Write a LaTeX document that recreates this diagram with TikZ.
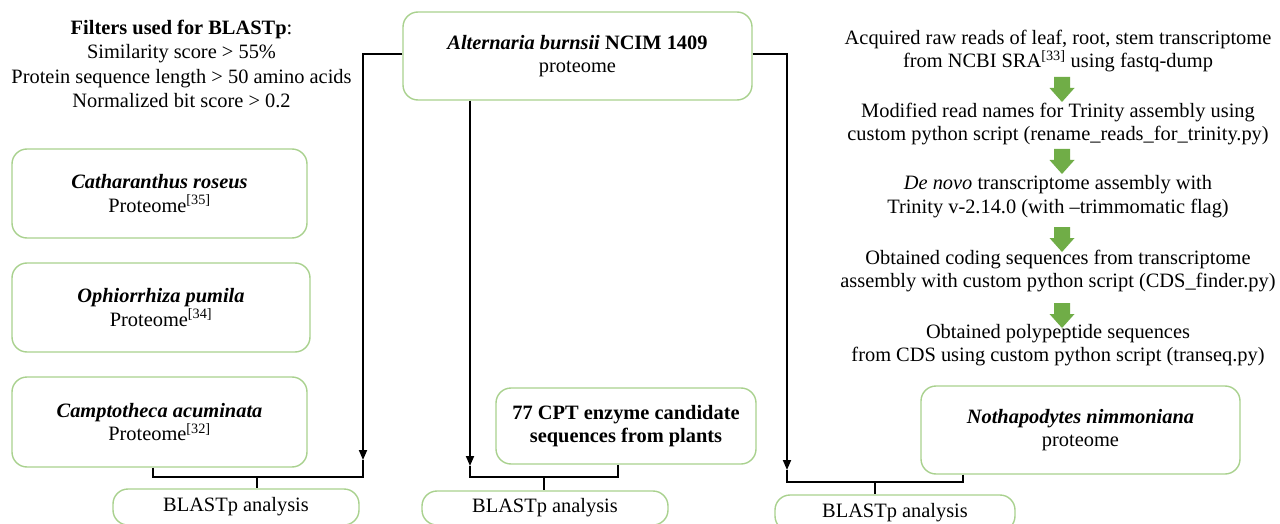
\documentclass[tikz,border=0pt]{standalone}
\usepackage{fontspec}
\setmainfont{Liberation Serif}
\usetikzlibrary{arrows.meta}
\definecolor{boxgreen}{RGB}{169,209,142}
\definecolor{arrgreen}{RGB}{112,173,71}
\tikzset{
  txt/.style={font=\fontsize{20.4}{23.5}\selectfont, align=center, inner sep=0pt},
  gbox/.style={txt, draw=boxgreen, line width=1.4pt, rounded corners=15pt},
  conn/.style={draw=black, line width=1.8pt},
  arr/.style={conn, -{Triangle[length=10pt,width=8pt]}},
  garrow/.style={fill=arrgreen}
}
\begin{document}
\begin{tikzpicture}[x=1pt,y=-1pt]
\path[use as bounding box, clip] (0,0) rectangle (1280,524);
\fill[white] (0,0) rectangle (1280,524);

% filters text
\node[txt, font=\fontsize{20.4}{24.4}\selectfont] (filt) at (181.5,64)
  {\textbf{Filters used for BLASTp}:\\Similarity score > 55\%\\Protein sequence length > 50 amino acids\\Normalized bit score > 0.2};

% boxes
\node[gbox, minimum width=349pt, minimum height=88pt] (alt) at (577.5,56)
  {\textbf{\textit{Alternaria burnsii}} \textbf{NCIM 1409}\\proteome};
\node[gbox, minimum width=295pt, minimum height=89pt] (cath) at (159.5,193.5)
  {\textbf{\textit{Catharanthus roseus}}\\Proteome\textsuperscript{[35]}};
\node[gbox, minimum width=298pt, minimum height=89pt] (oph) at (161,307.5)
  {\textbf{\textit{Ophiorrhiza pumila}}\\Proteome\textsuperscript{[34]}};
\node[gbox, minimum width=295pt, minimum height=90pt] (camp) at (159.5,422)
  {\textbf{\textit{Camptotheca acuminata}}\\Proteome\textsuperscript{[32]}};
\node[gbox, minimum width=260pt, minimum height=76pt] (cpt) at (626,426)
  {\textbf{77 CPT enzyme candidate}\\\textbf{sequences from plants}};
\node[gbox, minimum width=319pt, minimum height=88pt] (noth) at (1080.5,430)
  {\textbf{\textit{Nothapodytes nimmoniana}}\\proteome};
\node[gbox, minimum width=246pt, minimum height=36pt] (b1) at (236,507) {BLASTp analysis};
\node[gbox, minimum width=246pt, minimum height=34pt] (b2) at (545,508) {BLASTp analysis};
\node[gbox, minimum width=240pt, minimum height=36pt] (b3) at (895,513) {BLASTp analysis};

% right column pipeline
\node[txt] (s1) at (1058,51) {Acquired raw reads of leaf, root, stem transcriptome\\from NCBI SRA\textsuperscript{[33]} using fastq-dump};
\node[txt] (s2) at (1058,124) {Modified read names for Trinity assembly using\\custom python script (rename\_reads\_for\_trinity.py)};
\node[txt] (s3) at (1058,196.5) {\textit{De novo} transcriptome assembly with\\Trinity v-2.14.0 (with –trimmomatic flag)};
\node[txt] (s4) at (1058,271) {Obtained coding sequences from transcriptome\\assembly with custom python script (CDS\_finder.py)};
\node[txt] (s5) at (1058,345) {Obtained polypeptide sequences\\from CDS using custom python script (transeq.py)};

% green block arrows
\foreach \t in {77,149,227,303}{
  \fill[garrow] (1062,\t) ++(-8,0) -- ++(16,0) -- ++(0,11) -- ++(4.5,0) -- ++(-12.5,14) -- ++(-12.5,-14) -- ++(4.5,0) -- cycle;
}

% connectors
\coordinate (lTip) at (363,460);
\coordinate (lJ) at (257,477);
\coordinate (mTip) at (470,466);
\coordinate (mJ) at (544,477);
\coordinate (rTip) at (787,470);
\coordinate (rJ) at (875,482);

\draw[arr] ([yshift=2pt]alt.west) -| (lTip);
\draw[arr] (alt.south -| mTip) -- (mTip);
\draw[arr] ([yshift=2pt]alt.east) -| (rTip);

\draw[conn] ([xshift=-6.5pt]camp.south) |- (lTip |- lJ) -- (lTip);
\draw[conn] (lJ) -- (lJ |- b1.north);
\draw[conn] ([xshift=-8pt]cpt.south) |- (mTip |- mJ) -- (mTip);
\draw[conn] (mJ) -- (mJ |- b2.north);
\draw[conn] ([xshift=-117.5pt]noth.south) |- (rTip |- rJ) -- (rTip);
\draw[conn] (rJ) -- (rJ |- b3.north);
\end{tikzpicture}
\end{document}
